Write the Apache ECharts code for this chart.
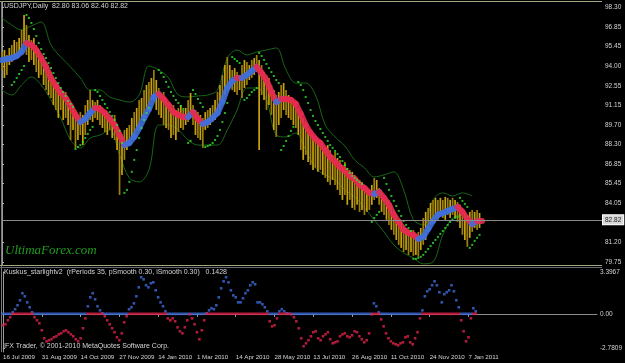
<!DOCTYPE html>
<html><head><meta charset="utf-8">
<script src="https://cdn.jsdelivr.net/npm/echarts@6/dist/echarts.min.js"></script>
<style>html,body{margin:0;padding:0;background:#000;}#c{width:625px;height:363px;}</style>
</head><body><div id="c"></div>
<script>
// ---------- data ----------
const symbolTitle = 'USDJPY,Daily';
const lastBar = [82.80, 83.06, 82.40, 82.82];
const dateLabels = ['16 Jul 2009','31 Aug 2009','14 Oct 2009','27 Nov 2009','14 Jan 2010','1 Mar 2010','14 Apr 2010','28 May 2010','13 Jul 2010','26 Aug 2010','11 Oct 2010','24 Nov 2010','7 Jan 2011'];
const priceTicks = [98.30,96.85,95.45,94.00,92.55,91.15,89.70,88.30,86.85,85.45,84.05,81.20,79.75];
const subTicks = [3.3967, 0, -2.7809];
const subTickText = ['3.3967','0.00','-2.7809'];
const indicatorTitle = 'Kuskus_starlightv2  (rPeriods 35, pSmooth 0.30, iSmooth 0.30)   0.1428';
const copyrightText = 'IFX Trader, \u00a9 2001-2010 MetaQuotes Software Corp.';
const watermarkText = 'UltimaForex.com';

// one entry per 2 trading days
const barHigh = [95.03,95.17,94.81,95.32,95.54,95.90,95.76,96.05,96.63,97.72,
 96.99,96.26,95.90,96.05,95.54,95.17,94.81,94.45,94.30,93.72,
 93.57,93.14,92.85,92.63,92.26,91.90,92.12,91.54,91.32,90.96,
 90.81,90.45,90.66,90.45,91.17,91.54,92.26,91.54,91.39,91.54,
 91.17,90.96,90.81,90.66,90.45,90.23,90.45,89.72,89.36,88.99,
 89.36,89.50,89.72,90.23,90.66,90.96,91.54,91.68,92.26,92.63,
 92.85,93.14,93.72,92.99,92.41,91.90,92.12,91.54,91.17,90.96,
 91.17,90.81,90.96,91.17,90.81,90.96,91.54,92.05,91.17,90.81,
 90.66,90.45,90.23,90.66,90.81,90.96,91.17,91.54,92.12,92.63,
 93.36,94.08,94.66,94.08,93.72,93.86,93.57,93.36,94.08,94.45,
 94.30,94.08,94.45,94.59,94.81,94.45,94.08,93.57,93.36,93.14,
 92.63,92.26,91.90,92.12,92.63,92.77,92.26,91.90,91.68,91.54,
 91.39,90.96,90.66,90.23,89.72,89.50,89.21,88.99,88.77,88.63,
 88.63,88.26,88.05,88.26,87.90,87.54,87.76,87.32,87.18,86.81,
 87.03,86.60,86.45,86.31,86.09,85.87,85.72,85.58,85.36,85.14,
 85.00,85.36,85.87,85.72,85.14,84.85,84.63,84.42,84.27,83.91,
 83.54,83.18,82.82,82.67,82.45,82.23,82.09,81.94,82.09,81.73,
 81.94,82.23,82.96,83.40,83.69,84.05,84.27,84.42,84.27,84.42,
 84.27,84.49,84.42,84.27,84.42,84.27,84.12,83.91,83.69,83.40,
 83.18,83.40,83.54,83.40,83.54,83.32];
const barLow = [93.72,93.14,93.36,94.08,94.30,94.45,94.59,94.81,95.03,95.54,
 94.81,94.30,94.45,94.08,93.57,93.14,93.36,92.63,92.26,91.90,
 91.68,91.17,90.81,90.23,90.81,90.08,90.23,89.72,88.63,89.36,
 88.05,88.63,88.99,88.26,88.99,89.72,90.08,89.94,90.23,90.08,
 89.72,89.50,89.21,88.99,89.36,88.77,88.63,87.90,84.63,86.09,
 87.18,87.90,88.26,88.63,88.99,89.36,89.72,90.08,90.45,90.81,
 91.17,91.54,91.90,90.81,90.45,90.23,89.72,89.50,89.36,88.77,
 88.99,88.63,89.21,89.50,89.36,89.72,89.94,90.23,89.72,88.99,
 88.77,88.63,88.05,89.36,89.50,89.72,89.94,90.08,90.45,90.81,
 91.54,91.90,92.63,92.41,92.26,92.12,91.90,92.26,91.68,92.41,
 92.63,92.99,93.14,93.36,93.57,87.90,91.90,91.54,90.81,91.17,
 90.45,89.36,88.85,89.72,90.23,90.81,90.45,90.23,90.08,89.72,
 89.50,88.99,87.90,87.18,87.54,87.03,86.81,86.45,86.60,86.31,
 86.45,86.09,85.87,85.58,85.36,85.72,85.36,85.00,84.63,84.27,
 84.63,83.91,84.27,83.69,83.54,83.91,83.40,83.54,83.18,83.40,
 83.54,83.91,84.27,84.42,83.91,83.40,83.18,82.82,82.45,82.09,
 81.73,81.36,81.00,80.78,80.49,80.63,80.27,80.49,80.20,80.27,
 80.13,80.63,81.00,81.36,81.94,82.45,82.67,82.96,82.82,83.18,
 82.96,82.82,83.18,82.96,83.18,82.96,82.67,82.23,81.73,81.36,
 80.85,81.51,81.94,82.23,82.09,82.23];
// moving average, one entry per 4 trading days
const maValues = [94.45,94.52,94.59,94.74,95.03,95.68,95.54,95.17,94.59,93.94,
 93.14,92.56,92.05,91.68,91.10,90.45,89.94,90.16,90.59,90.96,
 90.88,90.59,90.16,89.72,88.99,88.26,88.41,88.85,89.50,90.23,
 90.88,91.76,91.97,91.61,91.17,90.66,90.45,90.30,90.30,90.66,
 90.16,89.79,89.94,90.23,90.59,91.39,92.41,92.92,93.14,93.14,
 93.36,93.65,93.94,93.50,92.99,92.12,91.39,91.61,91.61,91.54,
 91.25,90.52,89.72,89.14,88.70,88.41,87.90,87.39,87.03,86.67,
 86.38,86.01,85.80,85.36,85.14,84.78,84.70,84.85,84.42,83.91,
 83.18,82.67,82.09,81.87,81.73,81.43,81.58,82.16,82.74,83.18,
 83.32,83.47,83.61,83.76,83.40,82.89,82.52,82.74];
// channel, one entry per 8 trading days
const bandUpper = [97.50,96.99,96.63,96.92,97.21,95.54,94.66,93.94,93.14,92.26,
 92.26,91.76,91.54,91.39,91.90,94.01,93.72,93.14,91.90,91.76,
 91.83,91.90,92.26,94.59,95.17,94.81,95.03,95.17,95.32,93.72,
 92.77,92.77,91.90,89.72,88.85,88.19,87.18,86.60,85.94,86.09,
 86.31,85.00,82.82,82.45,84.27,84.78,84.56,84.78,84.56];
const bandLower = [92.26,91.90,92.63,93.21,92.63,91.54,90.23,88.63,88.05,88.77,
 88.99,89.36,87.54,85.87,85.58,86.45,89.72,89.72,89.36,88.63,
 88.26,88.26,88.26,89.36,90.81,92.41,92.41,91.54,88.99,88.85,
 89.14,87.90,86.60,86.09,85.72,85.00,84.49,83.69,82.82,81.94,
 81.00,80.42,80.05,79.62,79.76,81.73,82.96,83.18,82.23];
// trailing stop dots, one entry per 2 trading days
const sarValues = [null,null,null,null,92.63,92.85,93.14,93.43,93.72,94.01,
 97.72,97.50,97.14,96.70,96.19,95.68,95.25,94.88,94.59,94.23,
 93.86,93.50,93.14,92.77,92.41,92.12,91.83,91.47,91.25,91.03,
 87.97,88.12,88.26,88.48,88.77,89.07,89.36,89.58,92.26,92.12,
 91.83,91.54,91.25,90.96,90.66,90.38,90.08,89.72,89.29,88.41,
 84.78,85.00,85.58,86.31,87.18,87.90,88.77,89.50,90.08,90.59,
 90.96,null,null,null,93.72,93.50,93.21,92.85,92.49,92.12,
 91.83,91.54,91.32,91.10,90.88,null,88.41,88.56,92.26,91.97,
 91.61,91.32,91.03,88.12,88.19,88.26,88.41,88.63,88.92,89.36,
 89.94,90.59,91.32,null,94.66,94.52,94.37,94.23,null,91.54,
 91.68,91.90,92.12,92.26,92.41,94.96,94.74,94.45,94.16,93.86,
 93.57,93.28,92.99,92.77,87.90,88.19,88.56,88.92,89.29,89.58,
 null,92.85,92.63,92.26,91.76,91.32,90.81,90.38,90.01,89.72,
 89.43,89.14,88.85,88.56,88.26,88.05,87.83,87.61,87.39,87.10,
 86.81,86.52,86.23,86.01,85.87,85.72,85.58,85.43,null,null,
 null,82.67,82.96,83.18,83.40,null,85.87,85.43,85.00,84.56,
 84.20,83.83,83.47,83.10,82.74,82.45,82.23,82.01,79.98,79.98,
 80.05,80.13,80.27,80.49,80.70,80.92,81.14,81.36,81.58,81.80,
 82.01,82.23,82.45,82.67,82.82,82.96,83.03,84.42,84.20,83.98,
 83.76,80.78,81.00,81.29,81.51,81.73];
// oscillator, one entry per 2 trading days
const kuskus = [-0.93,-0.85,-0.53,-0.28,0.12,0.37,0.69,1.10,1.67,1.42,
 0.93,0.53,0.12,-0.28,-0.53,-0.77,-1.34,-1.99,-2.24,-2.15,
 -2.07,-1.91,-1.83,-1.67,-1.59,-1.42,-1.34,-1.50,-1.67,-1.83,
 -2.07,-2.24,-1.99,-1.18,-0.37,0.61,1.34,1.67,1.18,0.61,
 0.28,0.04,-0.20,-0.53,-0.85,-1.18,-1.50,-1.91,-2.15,-1.59,
 -0.69,-0.20,0.37,0.53,0.85,1.42,2.15,2.97,2.80,2.32,
 2.15,2.48,2.56,1.91,1.34,0.93,0.61,0.20,-0.37,-0.53,
 -0.37,-0.61,-1.10,-1.42,-1.59,-1.10,-0.53,-0.04,-0.37,-0.85,
 -1.50,-2.07,-1.34,-0.53,0.04,0.28,0.45,0.37,0.69,1.34,
 2.07,2.64,2.97,2.56,1.91,1.50,1.34,0.93,0.93,1.26,
 1.67,1.91,2.32,2.56,2.40,0.93,0.93,0.77,0.53,0.20,
 -0.61,-1.02,-0.93,-0.37,0.20,0.37,0.20,0.04,0,-0.04,
 -0.28,-0.61,-1.18,-1.99,-2.64,-2.40,-2.15,-1.83,-1.50,-1.42,
 -1.99,-2.15,-1.83,-1.67,-1.50,-2.07,-2.40,-2.32,-2.24,-1.83,
 -1.67,-1.59,-1.83,-1.91,-1.75,-1.42,-1.50,-1.83,-2.07,-2.32,
 -2.15,-1.59,-0.04,0.85,0.61,0.12,-0.45,-1.02,-1.59,-1.99,
 -2.24,-2.40,-2.48,-2.56,-2.40,-2.32,-1.91,-1.83,-2.32,-2.48,
 -1.99,-1.50,-0.37,0.28,1.42,1.83,1.99,2.32,2.64,2.32,
 1.75,0.93,1.59,1.75,1.91,2.32,1.83,1.10,0.53,-0.53,
 -1.42,-2.24,-1.91,-0.37,0.45,0.20];

// ---------- chart ----------
const SLOTS = 245;
const barData = barHigh.map((h, i) => [i, h, barLow[i]]);
const maData = maValues.map((v, i) => [2 * i, v, i + 1 < maValues.length ? maValues[i + 1] : v]);
const upData = bandUpper.map((v, i) => [4 * i, v]);
const loData = bandLower.map((v, i) => [4 * i, v]);
const sarData = sarValues.map((v, i) => v == null ? null : [i, v]).filter(Boolean);
const kBlue = kuskus.map((v, i) => [i, Math.max(v, 0)]);
const kRed = kuskus.map((v, i) => [i, Math.min(v, 0)]);
const FONT = 'Liberation Sans';
const TXT = '#d4d4d4';

const chart = echarts.init(document.getElementById('c'));
chart.setOption({
  animation: false,
  backgroundColor: '#000',
  grid: [
    {left: 2, top: 2, width: 600, height: 263},
    {left: 2, top: 272, width: 600, height: 80}
  ],
  xAxis: [
    {gridIndex: 0, type: 'value', min: 0, max: SLOTS, show: false},
    {gridIndex: 1, type: 'value', min: 0, max: SLOTS,
     axisLine: {show: true, lineStyle: {color: '#8c8c8c'}},
     axisTick: {show: true, length: 3, customValues: dateLabels.map((_, i) => i * 16), lineStyle: {color: '#b0b0b0'}},
     axisLabel: {customValues: dateLabels.map((_, i) => i * 16), formatter: v => dateLabels[Math.round(v / 16)],
       align: 'left', color: TXT, fontSize: 6.2, fontFamily: FONT, margin: 2},
     splitLine: {show: false}}
  ],
  yAxis: [
    {gridIndex: 0, type: 'value', position: 'right', min: 79.536, max: 98.664,
     axisLine: {show: true, lineStyle: {color: '#9a9a9a'}},
     axisTick: {show: true, length: 2, customValues: priceTicks, lineStyle: {color: '#b0b0b0'}},
     axisLabel: {customValues: priceTicks, formatter: v => v.toFixed(2), color: TXT, fontSize: 6.5, fontFamily: FONT, margin: 3},
     splitLine: {show: false}},
    {gridIndex: 1, type: 'value', position: 'right', min: -3.106, max: 3.3967,
     axisLine: {show: true, lineStyle: {color: '#9a9a9a'}},
     axisTick: {show: true, length: 2, customValues: subTicks, lineStyle: {color: '#b0b0b0'}},
     axisLabel: {customValues: subTicks, formatter: v => subTickText[subTicks.indexOf(v)] || String(v), color: TXT, fontSize: 6.5, fontFamily: FONT, margin: 3},
     splitLine: {show: false}}
  ],
  series: [
    {type: 'line', xAxisIndex: 0, yAxisIndex: 0, data: upData, smooth: 0.35, symbol: 'none',
     lineStyle: {color: '#1a661a', width: 1}, z: 1,
     markLine: {silent: true, symbol: 'none', data: [{yAxis: lastBar[3]}],
       lineStyle: {color: '#8a8a8a', type: 'solid', width: 1},
       label: {position: 'end', formatter: lastBar[3].toFixed(2), color: '#202020', backgroundColor: '#d8d8d8',
         borderColor: '#ffffff', borderWidth: 1, padding: [1, 2], fontSize: 6.5, fontFamily: FONT, distance: 1}}},
    {type: 'line', xAxisIndex: 0, yAxisIndex: 0, data: loData, smooth: 0.35, symbol: 'none',
     lineStyle: {color: '#1a661a', width: 1}, z: 1},
    {type: 'custom', xAxisIndex: 0, yAxisIndex: 0, data: barData, z: 2,
     renderItem: (params, api) => {
       const a = api.coord([api.value(0), api.value(1)]);
       const b = api.coord([api.value(0), api.value(2)]);
       return {type: 'line', shape: {x1: a[0], y1: a[1], x2: b[0], y2: b[1]},
         style: {stroke: params.dataIndex % 2 ? '#c9a20e' : '#9c8008', lineWidth: 1.7}};
     }},
    {type: 'custom', xAxisIndex: 0, yAxisIndex: 0, data: maData, z: 3,
     renderItem: (params, api) => {
       const a = api.coord([api.value(0), api.value(1)]);
       const b = api.coord([api.value(0) + 2, api.value(2)]);
       const rising = api.value(2) > api.value(1);
       return {type: 'line', shape: {x1: a[0], y1: a[1], x2: b[0], y2: b[1]},
         style: {stroke: rising ? '#3f6fdc' : '#e52a50', lineWidth: 6, lineCap: 'round', opacity: 0.9}};
     }},
    {type: 'scatter', xAxisIndex: 0, yAxisIndex: 0, data: sarData, symbol: 'rect', symbolSize: 2,
     itemStyle: {color: '#30e030'}, z: 4},
    {type: 'scatter', xAxisIndex: 1, yAxisIndex: 1, data: kBlue, symbol: 'rect', symbolSize: [2.6, 2.6],
     itemStyle: {color: '#3c6ad8'}, z: 2},
    {type: 'scatter', xAxisIndex: 1, yAxisIndex: 1, data: kRed, symbol: 'rect', symbolSize: [2.6, 2.6],
     itemStyle: {color: '#dc2248'}, z: 3}
  ],
  graphic: [
    {type: 'line', shape: {x1: 0, y1: 1.5, x2: 602, y2: 1.5}, style: {stroke: '#a6a680', lineWidth: 1}, silent: true},
    {type: 'line', shape: {x1: 1.5, y1: 1, x2: 1.5, y2: 352}, style: {stroke: '#7a7a7a', lineWidth: 1}, silent: true},
    {type: 'line', shape: {x1: 0, y1: 265.5, x2: 602, y2: 265.5}, style: {stroke: '#a6a680', lineWidth: 1}, silent: true},
    {type: 'line', shape: {x1: 0, y1: 267.5, x2: 602, y2: 267.5}, style: {stroke: '#6a6a6a', lineWidth: 1}, silent: true},
    {type: 'text', left: 4, top: 3, style: {text: symbolTitle + '  ' + lastBar.map(v => v.toFixed(2)).join(' '), fill: TXT, fontSize: 7, fontFamily: FONT}, silent: true},
    {type: 'text', left: 4, top: 269, style: {text: indicatorTitle, fill: TXT, fontSize: 7, fontFamily: FONT}, silent: true},
    {type: 'text', left: 3, top: 343, style: {text: copyrightText, fill: TXT, fontSize: 7, fontFamily: FONT}, silent: true},
    {type: 'text', left: 5, top: 244, style: {text: watermarkText, fill: '#1f9e1f', fontSize: 13, fontStyle: 'italic', fontFamily: 'Liberation Serif'}, silent: true}
  ]
});
</script>
</body></html>
